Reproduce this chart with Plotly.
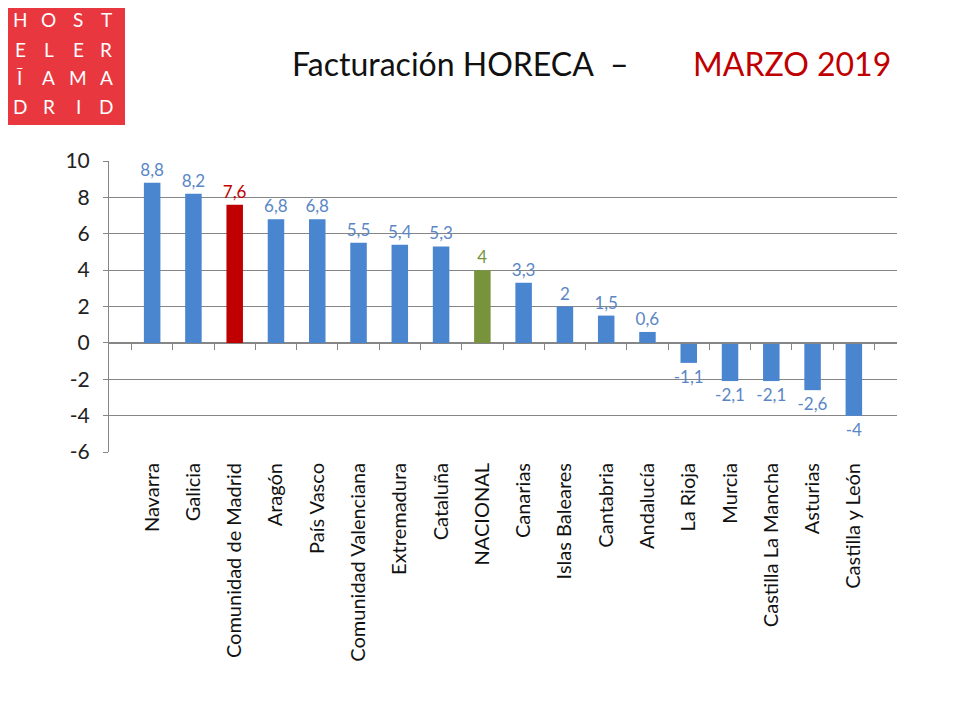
import plotly.graph_objects as go

regions = ["Navarra", "Galicia", "Comunidad de Madrid", "Aragón", "País Vasco",
           "Comunidad Valenciana", "Extremadura", "Cataluña", "NACIONAL", "Canarias",
           "Islas Baleares", "Cantabria", "Andalucía", "La Rioja", "Murcia",
           "Castilla La Mancha", "Asturias", "Castilla y León"]
values = [8.8, 8.2, 7.6, 6.8, 6.8, 5.5, 5.4, 5.3, 4, 3.3, 2, 1.5, 0.6,
          -1.1, -2.1, -2.1, -2.6, -4]
y_ticks = [-6, -4, -2, 0, 2, 4, 6, 8, 10]
y_tick_text = ["-6", "-4", "-2", "0", "2", "4", "6", "8", "10"]
logo_letters = [["H", "O", "S", "T"], ["E", "L", "E", "R"],
                ["Ī", "A", "M", "A"], ["D", "R", "I", "D"]]

BLUE = "#4a85d0"
BLUE_LBL = "#5a86c5"
RED = "#c00000"
GREEN = "#77933c"

bar_colors = []
lbl_colors = []
for r in regions:
    if r == "Comunidad de Madrid":
        bar_colors.append(RED); lbl_colors.append(RED)
    elif r == "NACIONAL":
        bar_colors.append(GREEN); lbl_colors.append(GREEN)
    else:
        bar_colors.append(BLUE); lbl_colors.append(BLUE_LBL)

labels = [f"{v:g}".replace(".", ",") for v in values]

FONT = "Lato"
OFF = 8  # page body margin in the browser

# target screen coordinates of the plot area
L, R, T, B = 109 - OFF, 897 - OFF, 161 - OFF, 452 - OFF
W, H = 960, 720

fig = go.Figure()
fig.add_trace(go.Bar(
    x=regions, y=values, marker=dict(color=bar_colors, line=dict(width=0)),
    width=0.4, text=labels, textposition="outside", constraintext="none",
    textfont=dict(color=lbl_colors, size=17, family=FONT),
    cliponaxis=False, showlegend=False, hoverinfo="skip",
))
fig.add_trace(go.Scatter(x=regions, y=[0]*len(regions), xaxis="x2", mode="markers",
                         marker=dict(opacity=0), showlegend=False, hoverinfo="skip"))


def px_x(px):
    return (px - OFF - L) / (R - L)


def px_y(py):
    return (B - (py - OFF)) / (B - T)


fig.update_layout(
    width=W, height=H,
    margin=dict(l=L, r=W - R, t=T, b=H - B),
    paper_bgcolor="white", plot_bgcolor="white",
    font=dict(family=FONT, color="#222222"),
    xaxis=dict(type="category", showline=False, ticks="", showgrid=False,
               tickangle=-90, tickfont=dict(size=20, family=FONT, color="#111111"),
               ticklabelstandoff=6),
    xaxis2=dict(type="category", overlaying="x", anchor="free", position=6/16,
                matches="x", showline=True, linecolor="#868686", linewidth=1,
                ticks="outside", tickson="boundaries", ticklen=6, tickcolor="#868686",
                showticklabels=False, showgrid=False),
    yaxis=dict(range=[-6, 10], tickvals=y_ticks, ticktext=y_tick_text,
               showgrid=True, gridcolor="#868686",
               gridwidth=1, showline=True, linecolor="#868686", zeroline=False,
               ticks="outside", ticklen=5, tickcolor="#868686", ticklabelstandoff=9,
               tickfont=dict(size=21, family=FONT, color="#222222")),
)

# logo
fig.add_shape(type="rect", xref="paper", yref="paper",
              x0=px_x(0), x1=px_x(125), y0=px_y(125), y1=px_y(0),
              fillcolor="#e8373f", line=dict(width=0), layer="below")
col_px = [20, 49, 78, 106]
row_px = [20, 49, 78, 106]
for ri, row in enumerate(logo_letters):
    for ci, ch in enumerate(row):
        fig.add_annotation(x=px_x(col_px[ci]), y=px_y(row_px[ri]), xref="paper", yref="paper",
                           text=ch, showarrow=False, xanchor="center", yanchor="middle",
                           font=dict(size=19, color="white", family=FONT))

# title
fig.add_annotation(x=px_x(290), y=px_y(63), xref="paper", yref="paper",
                   text="Facturación HORECA", showarrow=False, xanchor="left", yanchor="middle",
                   font=dict(size=32, color="#111111", family=FONT))
fig.add_annotation(x=px_x(619), y=px_y(63), xref="paper", yref="paper",
                   text="–", showarrow=False, xanchor="center", yanchor="middle",
                   font=dict(size=32, color="#111111", family=FONT))
fig.add_annotation(x=px_x(893), y=px_y(63), xref="paper", yref="paper",
                   text="MARZO 2019", showarrow=False, xanchor="right", yanchor="middle",
                   font=dict(size=32, color=RED, family=FONT))

fig.write_html("out.html")
